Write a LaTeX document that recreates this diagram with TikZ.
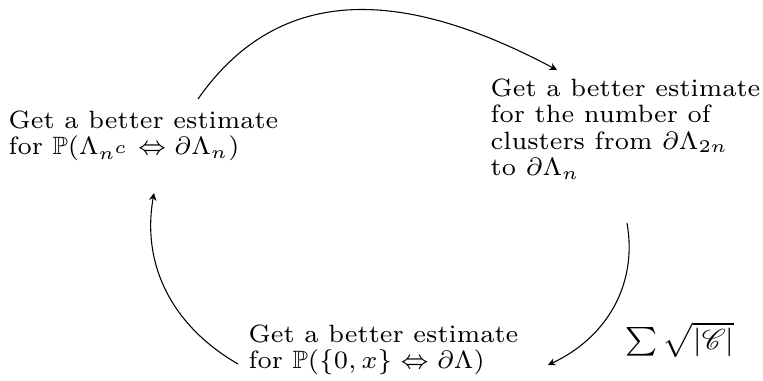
\documentclass[tikz,border=0pt]{standalone}
\usepackage{amsmath,amssymb,mathrsfs}
\usepackage{tikz}
\usetikzlibrary{arrows.meta, calc}

\begin{document}
\begin{tikzpicture}[
        x=0.2795pt, y=0.2795pt,
        stepbox/.style={inner sep=0pt, align=left, anchor=north west, font=\fontsize{7}{7.4}\selectfont},
        arrow/.style={-{Stealth[length=2.1pt, width=2.1pt]}, line width=0.3pt}
    ]
    \useasboundingbox (0,0) rectangle (763,381);

    \node (lft) [stepbox] at (8,271) {Get a better estimate\\ for $\mathbb{P}(\Lambda_{n^c} \Leftrightarrow \partial\Lambda_n)$};
    \node (rgt) [stepbox] at (490,303) {Get a better estimate\\ for the number of\\ clusters from $\partial\Lambda_{2n}$\\ to $\partial\Lambda_n$};
    \node (bot) [stepbox] at (248,57) {Get a better estimate\\ for $\mathbb{P}(\{0,x\} \Leftrightarrow \partial\Lambda)$};
    \node (sum) [inner sep=0pt, font=\fontsize{8}{9}\selectfont] at (680,41) {$\sum\sqrt{|\mathscr{C}|}$};

    \draw [arrow] ($(lft.north west)+(190,11)$) to[out=55, in=152, looseness=1.1] ($(rgt.north west)+(67,8)$);
    \draw [arrow] ($(rgt.north west)+(137,-145)$) to[out=-80, in=25] ($(bot.north west)+(300,-41)$);
    \draw [arrow] ($(bot.north west)+(-10,-40)$) to[out=150, in=-100] ($(lft.north west)+(146,-83)$);

\end{tikzpicture}
\end{document}
